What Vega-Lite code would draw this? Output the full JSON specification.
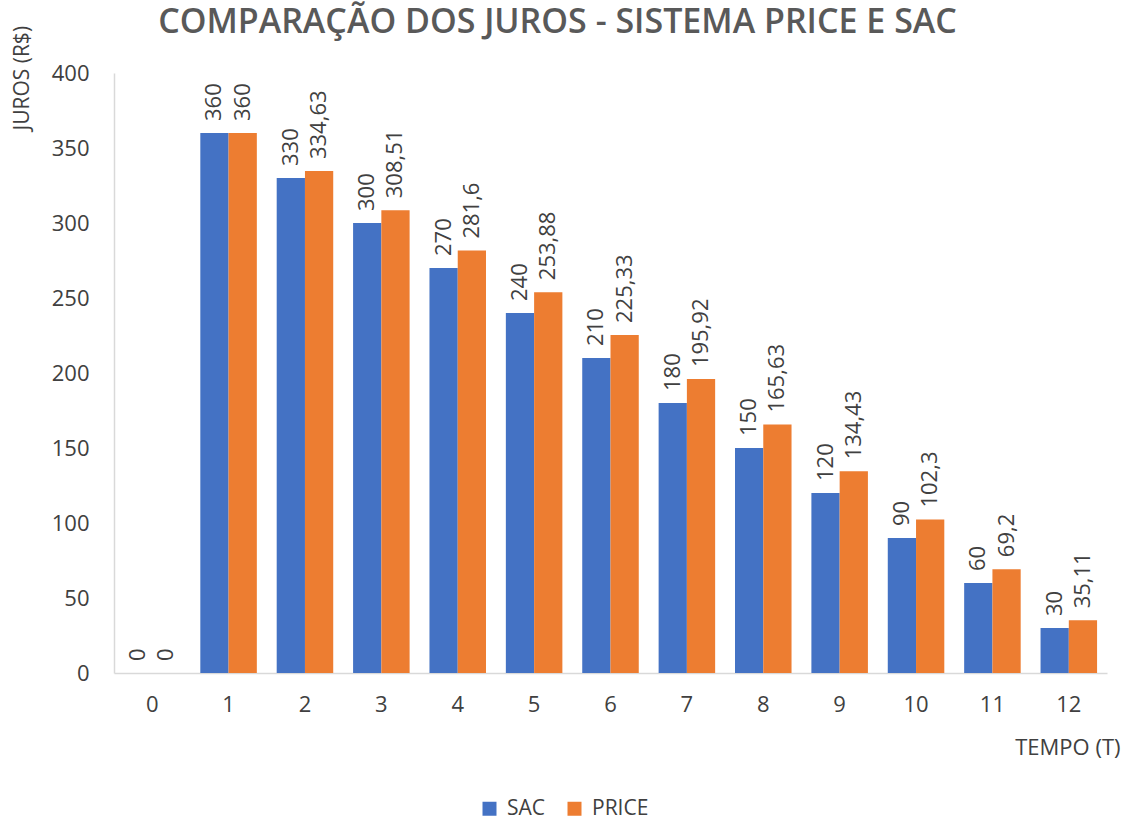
{
  "$schema": "https://vega.github.io/schema/vega-lite/v6.json",
  "autosize": "none",
  "width": 993,
  "height": 600,
  "padding": {"left": 114, "top": 73, "right": 24, "bottom": 150},
  "background": "white",
  "config": {
    "locale": {"number": {"decimal": ",", "thousands": ".", "grouping": [3], "currency": ["R$ ", ""]}},
    "view": {"stroke": null},
    "font": "Open Sans"
  },
  "title": {
    "text": "COMPARAÇÃO DOS JUROS - SISTEMA PRICE E SAC",
    "font": "Open Sans",
    "fontSize": 34,
    "fontWeight": 600,
    "color": "#595959",
    "anchor": "middle",
    "frame": "group",
    "dx": -53,
    "dy": 42,
    "baseline": "alphabetic",
    "offset": 0
  },
  "data": {
    "values": [
      {"t": 0, "sistema": "SAC", "juros": 0},
      {"t": 0, "sistema": "PRICE", "juros": 0},
      {"t": 1, "sistema": "SAC", "juros": 360},
      {"t": 1, "sistema": "PRICE", "juros": 360},
      {"t": 2, "sistema": "SAC", "juros": 330},
      {"t": 2, "sistema": "PRICE", "juros": 334.63},
      {"t": 3, "sistema": "SAC", "juros": 300},
      {"t": 3, "sistema": "PRICE", "juros": 308.51},
      {"t": 4, "sistema": "SAC", "juros": 270},
      {"t": 4, "sistema": "PRICE", "juros": 281.6},
      {"t": 5, "sistema": "SAC", "juros": 240},
      {"t": 5, "sistema": "PRICE", "juros": 253.88},
      {"t": 6, "sistema": "SAC", "juros": 210},
      {"t": 6, "sistema": "PRICE", "juros": 225.33},
      {"t": 7, "sistema": "SAC", "juros": 180},
      {"t": 7, "sistema": "PRICE", "juros": 195.92},
      {"t": 8, "sistema": "SAC", "juros": 150},
      {"t": 8, "sistema": "PRICE", "juros": 165.63},
      {"t": 9, "sistema": "SAC", "juros": 120},
      {"t": 9, "sistema": "PRICE", "juros": 134.43},
      {"t": 10, "sistema": "SAC", "juros": 90},
      {"t": 10, "sistema": "PRICE", "juros": 102.3},
      {"t": 11, "sistema": "SAC", "juros": 60},
      {"t": 11, "sistema": "PRICE", "juros": 69.2},
      {"t": 12, "sistema": "SAC", "juros": 30},
      {"t": 12, "sistema": "PRICE", "juros": 35.11}
    ]
  },
  "encoding": {
    "x": {
      "field": "t",
      "type": "ordinal",
      "scale": {"paddingInner": 0.26, "paddingOuter": 0.13},
      "axis": {
        "title": "TEMPO (T)",
        "titleFont": "Open Sans",
        "titleFontSize": 22,
        "titleFontWeight": "normal",
        "titleColor": "#404040",
        "titleX": 1006,
        "titleY": 74,
        "titleAlign": "right",
        "titleBaseline": "middle",
        "labelAngle": 0,
        "labelFont": "Open Sans",
        "labelFontSize": 22,
        "labelColor": "#404040",
        "labelPadding": 21,
        "ticks": false,
        "domainColor": "#d9d9d9",
        "domainWidth": 1.5,
        "grid": false
      }
    },
    "xOffset": {"field": "sistema", "type": "nominal", "sort": ["SAC", "PRICE"], "scale": {"paddingInner": 0, "paddingOuter": 0}},
    "y": {
      "field": "juros",
      "type": "quantitative",
      "scale": {"domain": [0, 400], "nice": false},
      "axis": {
        "title": "JUROS (R$)",
        "titleFont": "Open Sans",
        "titleFontSize": 21,
        "titleFontWeight": "normal",
        "titleColor": "#404040",
        "titleAngle": -90,
        "titleX": -92,
        "titleY": 57,
        "titleAlign": "left",
        "titleBaseline": "middle",
        "values": [0, 50, 100, 150, 200, 250, 300, 350, 400],
        "labelFont": "Open Sans",
        "labelFontSize": 22,
        "labelColor": "#404040",
        "labelPadding": 25,
        "ticks": false,
        "domainColor": "#d9d9d9",
        "domainWidth": 1.5,
        "grid": false
      }
    },
    "color": {
      "field": "sistema",
      "type": "nominal",
      "sort": ["SAC", "PRICE"],
      "scale": {"domain": ["SAC", "PRICE"], "range": ["#4472C4", "#ED7D31"]},
      "legend": {
        "title": null,
        "orient": "none",
        "direction": "horizontal",
        "legendX": 365,
        "legendY": 725,
        "symbolType": "square",
        "symbolSize": 196,
        "symbolStrokeWidth": 0,
        "labelFont": "Open Sans",
        "labelFontSize": 21,
        "labelColor": "#404040",
        "labelOffset": 7,
        "columnPadding": 18
      }
    }
  },
  "layer": [
    {"mark": {"type": "bar"}},
    {
      "mark": {"type": "text", "angle": -90, "align": "left", "baseline": "middle", "dx": 12, "font": "Open Sans", "fontSize": 22, "color": "#404040"},
      "encoding": {
        "text": {"field": "juros", "type": "quantitative", "format": "~f"},
        "color": {"value": "#404040"}
      }
    }
  ]
}
